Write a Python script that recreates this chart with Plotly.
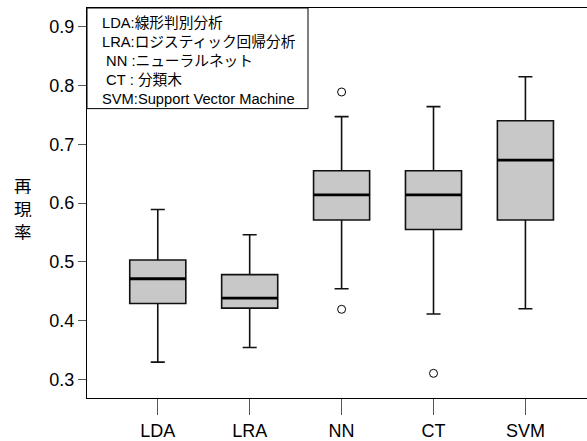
import plotly.graph_objects as go

categories = ["LDA", "LRA", "NN", "CT", "SVM"]
lower_whisker = [0.329, 0.354, 0.454, 0.411, 0.420]
q1_vals = [0.429, 0.421, 0.571, 0.555, 0.571]
median_vals = [0.471, 0.438, 0.614, 0.614, 0.673]
q3_vals = [0.503, 0.478, 0.655, 0.655, 0.740]
upper_whisker = [0.589, 0.546, 0.747, 0.764, 0.815]
outlier_x = ["NN", "NN", "CT"]
outlier_y = [0.789, 0.419, 0.310]
legend_lines = ["LDA:線形判別分析", "LRA:ロジスティック回帰分析", " NN :ニューラルネット",
                " CT : 分類木", "SVM:Support Vector Machine"]
y_title_chars = ["再", "現", "率"]
y_ticks = [0.3, 0.4, 0.5, 0.6, 0.7, 0.8, 0.9]

FONT = "Liberation Sans, Arial, Noto Sans CJK JP, sans-serif"
pos = list(range(len(categories)))
box_w = 0.61

fig = go.Figure()
fig.add_trace(go.Box(
    x=pos, q1=q1_vals, median=median_vals, q3=q3_vals,
    lowerfence=lower_whisker, upperfence=upper_whisker,
    width=box_w, whiskerwidth=0.25,
    fillcolor="#c8c8c8", line=dict(color="#111111", width=1.6),
    boxpoints=False, showlegend=False, hoverinfo="skip",
))

# thick median lines
mx, my = [], []
for p, m in zip(pos, median_vals):
    mx += [p - box_w / 2, p + box_w / 2, None]
    my += [m, m, None]
fig.add_trace(go.Scatter(x=mx, y=my, mode="lines",
                         line=dict(color="black", width=2.8),
                         showlegend=False, hoverinfo="skip"))

ox = [categories.index(c) for c in outlier_x]
fig.add_trace(go.Scatter(x=ox, y=outlier_y, mode="markers",
                         marker=dict(symbol="circle-open", size=8,
                                     color="black", line=dict(width=1)),
                         showlegend=False, hoverinfo="skip"))

# legend box
fig.add_shape(type="rect", xref="paper", yref="paper",
              x0=0, x1=0.442, y0=0.742, y1=1.0,
              line=dict(color="black", width=1), fillcolor="white", layer="above")
fig.add_annotation(
    xref="paper", yref="paper", x=0, y=0.865, xanchor="left", yanchor="middle",
    xshift=13, text="<br>".join(legend_lines).replace(" ", "&nbsp;"),
    align="left", showarrow=False,
    font=dict(family=FONT, size=14.7, color="black"),
)

for ch, yy in zip(y_title_chars, [0.546, 0.487, 0.428]):
    fig.add_annotation(
        xref="paper", yref="paper", x=-0.128, y=yy, xanchor="center", yanchor="middle",
        text=ch, showarrow=False, height=18, borderpad=0,
        font=dict(family="Noto Sans CJK JP", size=17.5, color="black"),
    )

fig.update_layout(
    width=587, height=441,
    margin=dict(l=87, r=0, t=8, b=41),
    paper_bgcolor="white", plot_bgcolor="white",
    font=dict(family=FONT, size=18, color="black"),
    xaxis=dict(range=[-0.77, 4.67], tickvals=pos, ticktext=categories,
               showline=True, linecolor="black", linewidth=1.2, mirror=True,
               ticks="outside", ticklen=16, tickcolor="#555555", tickwidth=1,
               showgrid=False, zeroline=False,
               tickfont=dict(family=FONT, size=18)),
    yaxis=dict(range=[0.268, 0.932], tickvals=y_ticks, tickformat=".1f",
               showline=True, linecolor="black", linewidth=1.2, mirror=False,
               ticks="outside", ticklen=8, tickcolor="#555555", tickwidth=1,
               showgrid=False, zeroline=False,
               tickfont=dict(family=FONT, size=18)),
)

fig.write_html("out.html", config={"displayModeBar": False},
               post_script="document.body.style.margin='0';document.body.style.overflow='hidden';"
                           "document.documentElement.style.overflow='hidden';")
